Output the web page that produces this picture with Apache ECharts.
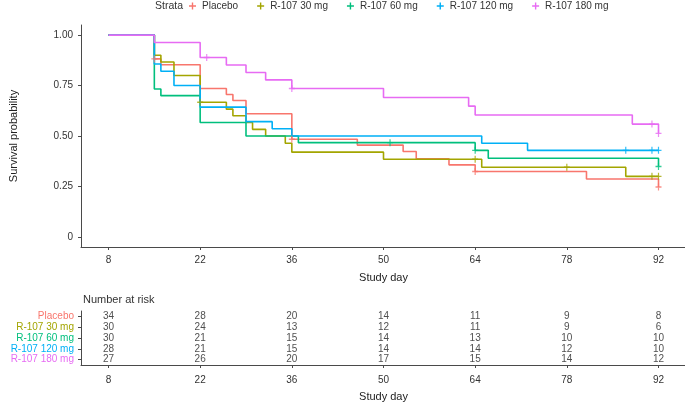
<!DOCTYPE html>
<html>
<head>
<meta charset="utf-8">
<script src="https://cdn.jsdelivr.net/npm/echarts@6/dist/echarts.min.js"></script>
<style>html,body{margin:0;padding:0;background:#fff}#c{width:685px;height:403px}</style>
</head>
<body>
<div id="c"></div>
<script>
// ---- data ----
const strata = ['Placebo', 'R-107 30 mg', 'R-107 60 mg', 'R-107 120 mg', 'R-107 180 mg'];
const colors = ['#F8766D', '#A3A500', '#00BF7D', '#00B0F6', '#E76BF3'];
const dayTicks = [8, 22, 36, 50, 64, 78, 92];
const survTicks = [0, 0.25, 0.5, 0.75, 1];

const placeboTime = [8, 15, 16, 22, 26, 27, 29, 36, 46, 53, 55, 60, 64, 81, 92];
const placeboSurv = [1, 0.882, 0.853, 0.735, 0.706, 0.676, 0.610, 0.484, 0.455, 0.423, 0.387, 0.357, 0.324, 0.287, 0.247];
const placeboCensT = [15, 36, 64, 92];
const placeboCensS = [0.882, 0.484, 0.324, 0.247];

const mg30Time = [8, 15, 16, 18, 22, 26, 27, 29, 30, 32, 35, 36, 50, 65, 87, 92];
const mg30Surv = [1, 0.9, 0.867, 0.8, 0.667, 0.633, 0.6, 0.567, 0.533, 0.5, 0.464, 0.42, 0.385, 0.345, 0.30, 0.30];
const mg30CensT = [22, 64, 78, 91, 92];
const mg30CensS = [0.667, 0.385, 0.345, 0.30, 0.30];

const mg60Time = [8, 15, 16, 22, 29, 37, 64, 66, 92];
const mg60Surv = [1, 0.733, 0.70, 0.567, 0.50, 0.467, 0.429, 0.39, 0.349];
const mg60CensT = [51, 64, 92];
const mg60CensS = [0.467, 0.429, 0.349];

const mg120Time = [8, 15, 16, 18, 22, 29, 33, 36, 65, 72, 92];
const mg120Surv = [1, 0.857, 0.821, 0.75, 0.643, 0.571, 0.536, 0.50, 0.464, 0.429, 0.429];
const mg120CensT = [87, 91, 92];
const mg120CensS = [0.429, 0.429, 0.429];

const mg180Time = [8, 15, 22, 26, 29, 32, 36, 50, 63, 64, 88, 92];
const mg180Surv = [1, 0.963, 0.889, 0.852, 0.815, 0.778, 0.735, 0.691, 0.648, 0.604, 0.559, 0.513];
const mg180CensT = [23, 36, 91, 92];
const mg180CensS = [0.889, 0.735, 0.559, 0.513];

const riskPlacebo = [34, 28, 20, 14, 11, 9, 8];
const risk30 = [30, 24, 13, 12, 11, 9, 6];
const risk60 = [30, 21, 15, 14, 13, 10, 10];
const risk120 = [28, 21, 15, 14, 14, 12, 10];
const risk180 = [27, 26, 20, 17, 15, 14, 12];

// ---- build ----
const curves = [
  [placeboTime, placeboSurv, placeboCensT, placeboCensS],
  [mg30Time, mg30Surv, mg30CensT, mg30CensS],
  [mg60Time, mg60Surv, mg60CensT, mg60CensS],
  [mg120Time, mg120Surv, mg120CensT, mg120CensS],
  [mg180Time, mg180Surv, mg180CensT, mg180CensS]
];
const risks = [riskPlacebo, risk30, risk60, risk120, risk180];
const zip = (a, b) => a.map((v, i) => [v, b[i]]);
const plus = 'path://M4,0H6V4H10V6H6V10H4V6H0V4H4Z';
const FONT = 'Liberation Sans, Arial, sans-serif';
const axisCol = '#4a4a4a';
const txtCol = '#333';

const series = [];
curves.forEach((c, i) => {
  series.push({
    name: strata[i], type: 'line', step: 'end', xAxisIndex: 0, yAxisIndex: 0,
    data: zip(c[0], c[1]), showSymbol: false, symbol: 'none',
    lineStyle: { color: colors[i], width: 1.6 }, itemStyle: { color: colors[i] },
    z: 2 + i, silent: true, animation: false
  });
  series.push({
    name: strata[i], type: 'scatter', xAxisIndex: 0, yAxisIndex: 0,
    data: zip(c[2], c[3]), symbol: plus, symbolSize: [6, 7],
    itemStyle: { color: colors[i] }, z: 10, silent: true, animation: false
  });
  series.push({
    type: 'scatter', xAxisIndex: 1, yAxisIndex: 1,
    data: dayTicks.map((d, k) => [d, strata[i], risks[i][k]]),
    symbolSize: 0.1, itemStyle: { color: 'rgba(0,0,0,0)' },
    label: { show: true, position: 'inside', formatter: p => String(p.value[2]),
             color: '#222', fontSize: 10, fontFamily: FONT },
    silent: true, animation: false
  });
});

const chart = echarts.init(document.getElementById('c'), null, { renderer: 'canvas' });
chart.setOption({
  animation: false,
  textStyle: { fontFamily: FONT },
  legend: {
    data: strata, left: 189, top: 1, padding: 0, icon: plus, itemWidth: 9, itemHeight: 7, itemGap: 19,
    textStyle: { fontSize: 10, color: txtCol, fontFamily: FONT }, selectedMode: false
  },
  graphic: [
    { type: 'text', left: 155, top: 1, style: { text: 'Strata', fill: txtCol, font: '10.5px ' + FONT } },
    { type: 'text', left: 83, top: 294, style: { text: 'Number at risk', fill: txtCol, font: '11px ' + FONT } }
  ],
  grid: [
    { left: 81, width: 605, top: 25, height: 222, outerBoundsMode: 'none', containLabel: false },
    { left: 81, width: 605, top: 311, height: 54, outerBoundsMode: 'none', containLabel: false }
  ],
  xAxis: [
    {
      gridIndex: 0, type: 'value', min: 3.8, max: 96.2,
      name: 'Study day', nameLocation: 'middle', nameGap: 25,
      nameTextStyle: { fontSize: 11, color: '#222' },
      axisLine: { show: true, onZero: false, lineStyle: { color: axisCol } },
      axisTick: { show: true, customValues: dayTicks, length: 3, lineStyle: { color: axisCol } },
      axisLabel: { customValues: dayTicks, margin: 8, fontSize: 10, color: txtCol },
      splitLine: { show: false }
    },
    {
      gridIndex: 1, type: 'value', min: 3.8, max: 96.2,
      name: 'Study day', nameLocation: 'middle', nameGap: 26,
      nameTextStyle: { fontSize: 11, color: '#222' },
      axisLine: { show: true, onZero: false, lineStyle: { color: axisCol } },
      axisTick: { show: true, customValues: dayTicks, length: 3, lineStyle: { color: axisCol } },
      axisLabel: { customValues: dayTicks, margin: 10, fontSize: 10, color: txtCol },
      splitLine: { show: false }
    }
  ],
  yAxis: [
    {
      gridIndex: 0, type: 'value', min: -0.05, max: 1.05,
      name: 'Survival probability', nameLocation: 'middle', nameGap: 62, nameRotate: 90,
      nameTextStyle: { fontSize: 11, color: '#222' },
      axisLine: { show: true, onZero: false, lineStyle: { color: axisCol } },
      axisTick: { show: true, customValues: survTicks, length: 3, lineStyle: { color: axisCol } },
      axisLabel: { customValues: survTicks, margin: 8, fontSize: 10, color: txtCol,
                   formatter: v => (v === 0 ? '0' : v.toFixed(2)) },
      splitLine: { show: false }
    },
    {
      gridIndex: 1, type: 'category', data: strata, inverse: true,
      name: 'Strata', nameLocation: 'middle', nameGap: 68, nameRotate: 90,
      nameTextStyle: { fontSize: 11, color: '#222' },
      axisLine: { show: true, onZero: false, lineStyle: { color: axisCol } },
      axisTick: { show: true, alignWithLabel: true, interval: 0, length: 3, lineStyle: { color: axisCol } },
      axisLabel: { interval: 0, margin: 7, fontSize: 10, color: (v, i) => colors[i] },
      splitLine: { show: false }
    }
  ],
  series: series
});
</script>
</body>
</html>
